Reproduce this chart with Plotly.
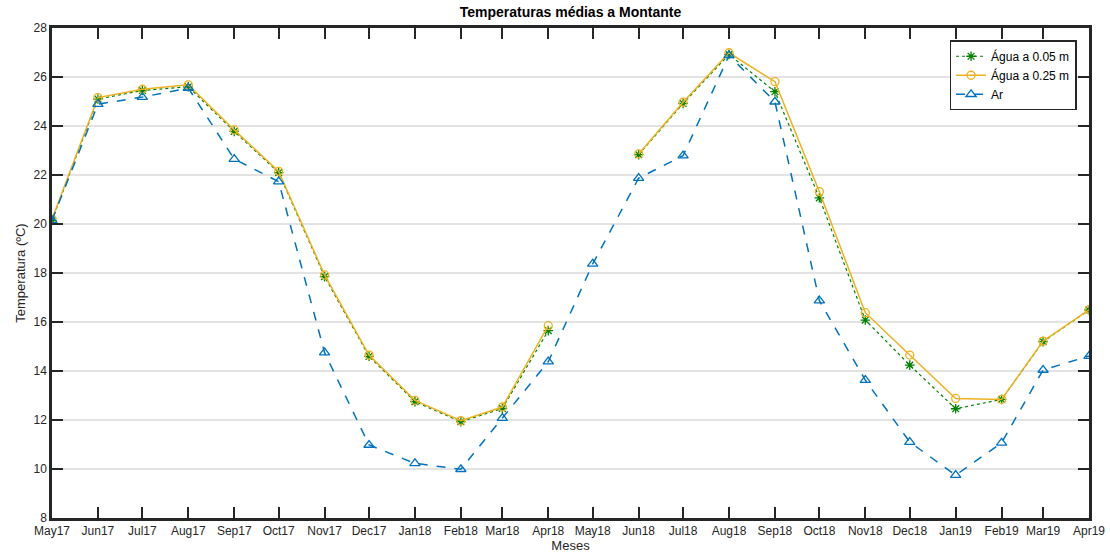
import plotly.graph_objects as go

dates = ["2017-05-01", "2017-06-01", "2017-07-01", "2017-08-01", "2017-09-01", "2017-10-01",
         "2017-11-01", "2017-12-01", "2018-01-01", "2018-02-01", "2018-03-01", "2018-04-01",
         "2018-05-01", "2018-06-01", "2018-07-01", "2018-08-01", "2018-09-01", "2018-10-01",
         "2018-11-01", "2018-12-01", "2019-01-01", "2019-02-01", "2019-03-01", "2019-04-01"]
tick_labels = ["May17", "Jun17", "Jul17", "Aug17", "Sep17", "Oct17", "Nov17", "Dec17",
               "Jan18", "Feb18", "Mar18", "Apr18", "May18", "Jun18", "Jul18", "Aug18",
               "Sep18", "Oct18", "Nov18", "Dec18", "Jan19", "Feb19", "Mar19", "Apr19"]

agua_005 = [20.15, 25.1, 25.45, 25.6, 23.78, 22.1, 17.85, 14.6, 12.75, 11.93, 12.47, 15.65,
            None, 22.83, 24.92, 26.92, 25.4, 21.07, 16.08, 14.24, 12.46, 12.84, 15.2, 16.49]
agua_025 = [20.2, 25.16, 25.5, 25.68, 23.84, 22.15, 17.92, 14.65, 12.8, 11.97, 12.53, 15.85,
            None, 22.86, 24.97, 26.99, 25.81, 21.32, 16.38, 14.65, 12.88, 12.84, 15.22, 16.5]
ar = [20.15, 24.89, 25.18, 25.55, 22.65, 21.73, 14.75, 10.98, 10.23, 9.99, 12.08, 14.38,
      18.37, 21.87, 22.79, 26.88, 24.99, 16.87, 13.63, 11.1, 9.75, 11.07, 14.04, 14.61]

fig = go.Figure()
fig.add_trace(go.Scatter(
    x=dates, y=agua_005, name="Água a 0.05 m", mode="lines+markers",
    line=dict(color="#008000", width=1.2, dash="dot"),
    marker=dict(symbol="asterisk-open", size=8, line=dict(color="#008000", width=1.3)),
))
fig.add_trace(go.Scatter(
    x=dates, y=agua_025, name="Água a 0.25 m", mode="lines+markers",
    line=dict(color="#EDB120", width=1.5),
    marker=dict(symbol="circle-open", size=8, line=dict(color="#EDB120", width=1.3)),
))
fig.add_trace(go.Scatter(
    x=dates, y=ar, name="Ar", mode="lines+markers",
    line=dict(color="#0072BD", width=1.5, dash="dash"),
    marker=dict(symbol="triangle-up-open", size=9, line=dict(color="#0072BD", width=1.3)),
))

font_family = "Liberation Sans, Arial, sans-serif"
fig.update_layout(
    width=1110, height=555,
    margin=dict(l=52, r=21, t=28, b=37),
    paper_bgcolor="white", plot_bgcolor="white",
    font=dict(family=font_family, size=12, color="#262626"),
    title=dict(text="<b>Temperaturas médias a Montante</b>", x=0.5, xref="paper", xanchor="center",
               y=1, yref="paper", yanchor="bottom", pad=dict(b=11),
               font=dict(size=14, color="#000000")),
    legend=dict(x=0.988, y=0.975, xanchor="right", yanchor="top",
                bgcolor="white", bordercolor="#262626", borderwidth=1.5,
                font=dict(size=12, color="#000000"), tracegroupgap=0,
                itemwidth=30),
    showlegend=True,
)
fig.update_xaxes(
    type="date", range=[dates[0], dates[-1]],
    tickmode="array", tickvals=dates, ticktext=tick_labels,
    ticks="inside", ticklen=11, tickwidth=2, tickcolor="#262626",
    showline=True, linecolor="#262626", linewidth=2.5, mirror="ticks",
    showgrid=False, zeroline=False, automargin=False,
    title=dict(text="Meses", standoff=3, font=dict(size=13, color="#262626")),
    tickfont=dict(size=12, color="#262626"),
)
fig.update_yaxes(
    range=[8, 28], dtick=2, tick0=8,
    ticks="inside", ticklen=11, tickwidth=2, tickcolor="#262626",
    showline=True, linecolor="#262626", linewidth=2.5, mirror="ticks",
    showgrid=True, gridcolor="#e3e3e3", gridwidth=2, zeroline=False, automargin=False,
    title=dict(text="Temperatura (ºC)", standoff=5, font=dict(size=13, color="#262626")),
    tickfont=dict(size=12, color="#262626"),
)

fig.write_html("out.html")
